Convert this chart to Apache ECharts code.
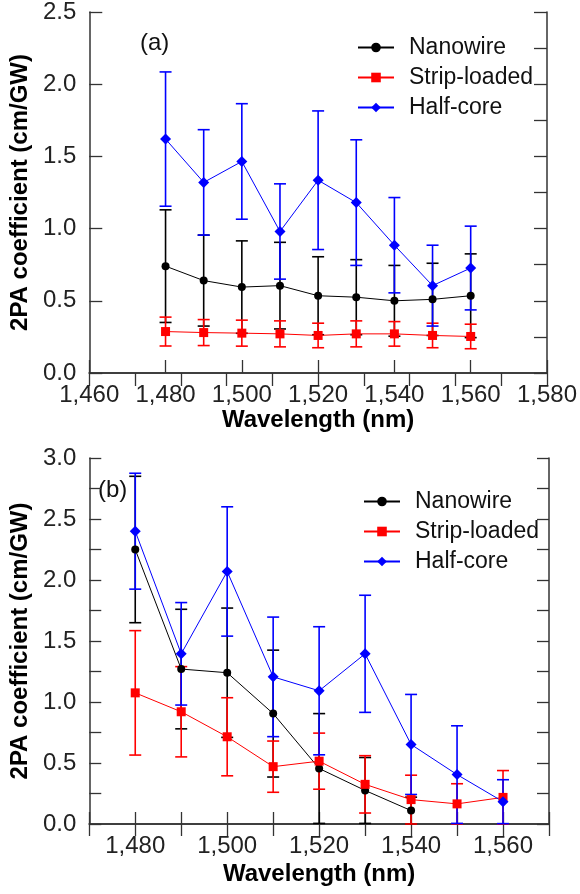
<!DOCTYPE html>
<html><head><meta charset="utf-8">
<script src="https://cdn.jsdelivr.net/npm/echarts@6/dist/echarts.min.js"></script>
<style>html,body{margin:0;padding:0;background:#fff}#c{width:580px;height:894px}</style>
</head><body><div id="c"></div>
<script>
// ---- data ----
const wavelengths = [1480, 1490, 1500, 1510, 1520, 1530, 1540, 1550, 1560];
const seriesNames = ['Nanowire', 'Strip-loaded', 'Half-core'];

// panel (a)
const aNanowire    = [0.74, 0.64, 0.595, 0.605, 0.535, 0.525, 0.50, 0.51, 0.535];
const aNanowireErr = [0.39, 0.315, 0.32, 0.30, 0.27, 0.26, 0.245, 0.25, 0.29];
const aStrip       = [0.287, 0.280, 0.276, 0.271, 0.260, 0.271, 0.271, 0.260, 0.253];
const aStripErr    = [0.10, 0.09, 0.09, 0.09, 0.085, 0.09, 0.085, 0.085, 0.085];
const aHalf        = [1.62, 1.32, 1.465, 0.98, 1.335, 1.18, 0.885, 0.605, 0.727];
const aHalfErr     = [0.465, 0.365, 0.40, 0.33, 0.48, 0.435, 0.33, 0.28, 0.29];

// panel (b)
const bNanowire    = [2.25, 1.27, 1.24, 0.905, 0.455, 0.275, 0.11, null, null];
const bNanowireErr = [0.60, 0.49, 0.53, 0.52, 0.45, 0.27, 0.11, null, null];
const bStrip       = [1.075, 0.92, 0.715, 0.47, 0.515, 0.325, 0.20, 0.165, 0.218];
const bStripErr    = [0.51, 0.37, 0.32, 0.21, 0.23, 0.235, 0.20, 0.165, 0.22];
const bHalf        = [2.40, 1.395, 2.07, 1.206, 1.092, 1.395, 0.652, 0.405, 0.183];
const bHalfErr     = [0.475, 0.42, 0.53, 0.49, 0.525, 0.48, 0.41, 0.40, 0.18];

const aXTicks = [1460, 1580, 20];
const bXTicks = [1470, 1570, 10];
const bXLabels = [1480, 1500, 1520, 1540, 1560];

// ---- styles ----
const FONT = "'Liberation Sans', Arial, sans-serif";
const AXC = '#333';
const colors = ['#000000', '#ff0000', '#0000ff'];
const symbols = ['circle', 'rect', 'diamond'];
const symSizes = [8, 9, 11];

function fmtComma(v) { return String(v).replace(/(\d)(?=(\d{3})+$)/, '$1,'); }

const axisLine = { show: true, lineStyle: { color: AXC, width: 1.5 } };
const tickIn = (len) => ({ show: true, inside: true, length: len, lineStyle: { color: AXC, width: 1.3 } });
const labelStyle = { fontFamily: FONT, fontSize: 24, color: '#222' };
const nameStyle = { fontFamily: FONT, fontSize: 24, fontWeight: 'bold', color: '#000' };

function makeErr(name, xi, yi, vals, errs, color) {
  const data = [];
  wavelengths.forEach((w, i) => { if (vals[i] != null) data.push([w, vals[i], errs[i]]); });
  return {
    type: 'custom', name: name + ' err', xAxisIndex: xi, yAxisIndex: yi, z: 2,
    encode: { x: 0, y: 1 },
    data,
    renderItem: (params, api) => {
      const x = api.value(0), y = api.value(1), e = api.value(2);
      const hi = api.coord([x, y + e]);
      const lo = api.coord([x, Math.max(y - e, 0)]);
      const c = 6;
      const st = { stroke: color, lineWidth: 1.6 };
      return { type: 'group', children: [
        { type: 'line', shape: { x1: hi[0], y1: hi[1], x2: lo[0], y2: lo[1] }, style: st },
        { type: 'line', shape: { x1: hi[0] - c, y1: hi[1], x2: hi[0] + c, y2: hi[1] }, style: st },
        { type: 'line', shape: { x1: lo[0] - c, y1: lo[1], x2: lo[0] + c, y2: lo[1] }, style: st }
      ]};
    }
  };
}
function makeLine(k, xi, yi, vals) {
  return {
    type: 'line', name: seriesNames[k], xAxisIndex: xi, yAxisIndex: yi, z: 3,
    data: wavelengths.map((w, i) => [w, vals[i]]),
    symbol: symbols[k], symbolSize: symSizes[k], showSymbol: true,
    lineStyle: { color: colors[k], width: 1 },
    itemStyle: { color: colors[k] },
    connectNulls: false, animation: false
  };
}

const series = [];
const aSets = [[aNanowire, aNanowireErr], [aStrip, aStripErr], [aHalf, aHalfErr]];
const bSets = [[bNanowire, bNanowireErr], [bStrip, bStripErr], [bHalf, bHalfErr]];
aSets.forEach((s, k) => series.push(makeErr(seriesNames[k], 0, 0, s[0], s[1], colors[k])));
bSets.forEach((s, k) => series.push(makeErr(seriesNames[k], 2, 2, s[0], s[1], colors[k])));
aSets.forEach((s, k) => series.push(makeLine(k, 0, 0, s[0])));
bSets.forEach((s, k) => series.push(makeLine(k, 2, 2, s[0])));

const option = {
  animation: false,
  backgroundColor: '#fff',
  grid: [
    { left: 87, right: 31, top: 7, bottom: 521 },
    { left: 87, right: 31, top: 458, bottom: 70 }
  ],
  xAxis: [
    { gridIndex: 0, type: 'value', position: 'bottom', min: aXTicks[0], max: aXTicks[1], interval: aXTicks[2],
      axisLine, axisTick: tickIn(13), splitLine: { show: false },
      axisLabel: { ...labelStyle, margin: 10, formatter: fmtComma },
      name: 'Wavelength (nm)', nameLocation: 'middle', nameGap: 32, nameTextStyle: nameStyle },
    { gridIndex: 0, type: 'value', position: 'top', min: 0, max: 10, interval: 1,
      axisLine, axisTick: tickIn(13), axisLabel: { show: false }, splitLine: { show: false } },
    { gridIndex: 1, type: 'value', position: 'bottom', min: bXTicks[0], max: bXTicks[1], interval: bXTicks[2],
      axisLine, axisTick: tickIn(12), splitLine: { show: false },
      axisLabel: { ...labelStyle, margin: 10, formatter: v => bXLabels.includes(v) ? fmtComma(v) : '' },
      name: 'Wavelength (nm)', nameLocation: 'middle', nameGap: 38, nameTextStyle: nameStyle },
    { gridIndex: 1, type: 'value', position: 'top', min: bXTicks[0], max: bXTicks[1], interval: bXTicks[2],
      axisLine, axisTick: tickIn(12), axisLabel: { show: false }, splitLine: { show: false } }
  ],
  yAxis: [
    { gridIndex: 0, type: 'value', position: 'left', min: 0, max: 2.5, interval: 0.5,
      axisLine, axisTick: tickIn(13), splitLine: { show: false },
      axisLabel: { ...labelStyle, margin: 13, padding: [6, 0, 0, 0], formatter: v => v.toFixed(1) },
      name: '2PA coefficient (cm/GW)', nameLocation: 'middle', nameGap: 48, nameTextStyle: nameStyle },
    { gridIndex: 0, type: 'value', position: 'right', min: 0, max: 2.5, interval: 0.25,
      axisLine, axisTick: tickIn(13), axisLabel: { show: false }, splitLine: { show: false } },
    { gridIndex: 1, type: 'value', position: 'left', min: 0, max: 3, interval: 0.5,
      axisLine, axisTick: tickIn(12), splitLine: { show: false },
      minorTick: { show: true, splitNumber: 2, length: 12, lineStyle: { color: AXC, width: 1.3 } },
      axisLabel: { ...labelStyle, margin: 13, padding: [7, 0, 0, 0], formatter: v => v.toFixed(1) },
      name: '2PA coefficient (cm/GW)', nameLocation: 'middle', nameGap: 48, nameTextStyle: nameStyle },
    { gridIndex: 1, type: 'value', position: 'right', min: 0, max: 3, interval: 0.25,
      axisLine, axisTick: tickIn(12), axisLabel: { show: false }, splitLine: { show: false } }
  ],
  legend: [
    { data: seriesNames, orient: 'vertical', left: 352, top: 31, itemWidth: 36, itemHeight: 12, itemGap: 7,
      textStyle: { fontFamily: FONT, fontSize: 23, color: '#111', lineHeight: 23, padding: [0, 0, 0, 10] }, selectedMode: false },
    { data: seriesNames, orient: 'vertical', left: 358, top: 485, itemWidth: 36, itemHeight: 12, itemGap: 7,
      textStyle: { fontFamily: FONT, fontSize: 23, color: '#111', lineHeight: 23, padding: [0, 0, 0, 10] }, selectedMode: false }
  ],
  graphic: [
    { type: 'text', left: 140, top: 31, style: { text: '(a)', font: "24px 'Liberation Sans', Arial", fill: '#111' } },
    { type: 'text', left: 98, top: 478, style: { text: '(b)', font: "24px 'Liberation Sans', Arial", fill: '#111' } }
  ],
  series
};
const chart = echarts.init(document.getElementById('c'), null, { renderer: 'canvas' });
chart.setOption(option);
</script>
</body></html>
